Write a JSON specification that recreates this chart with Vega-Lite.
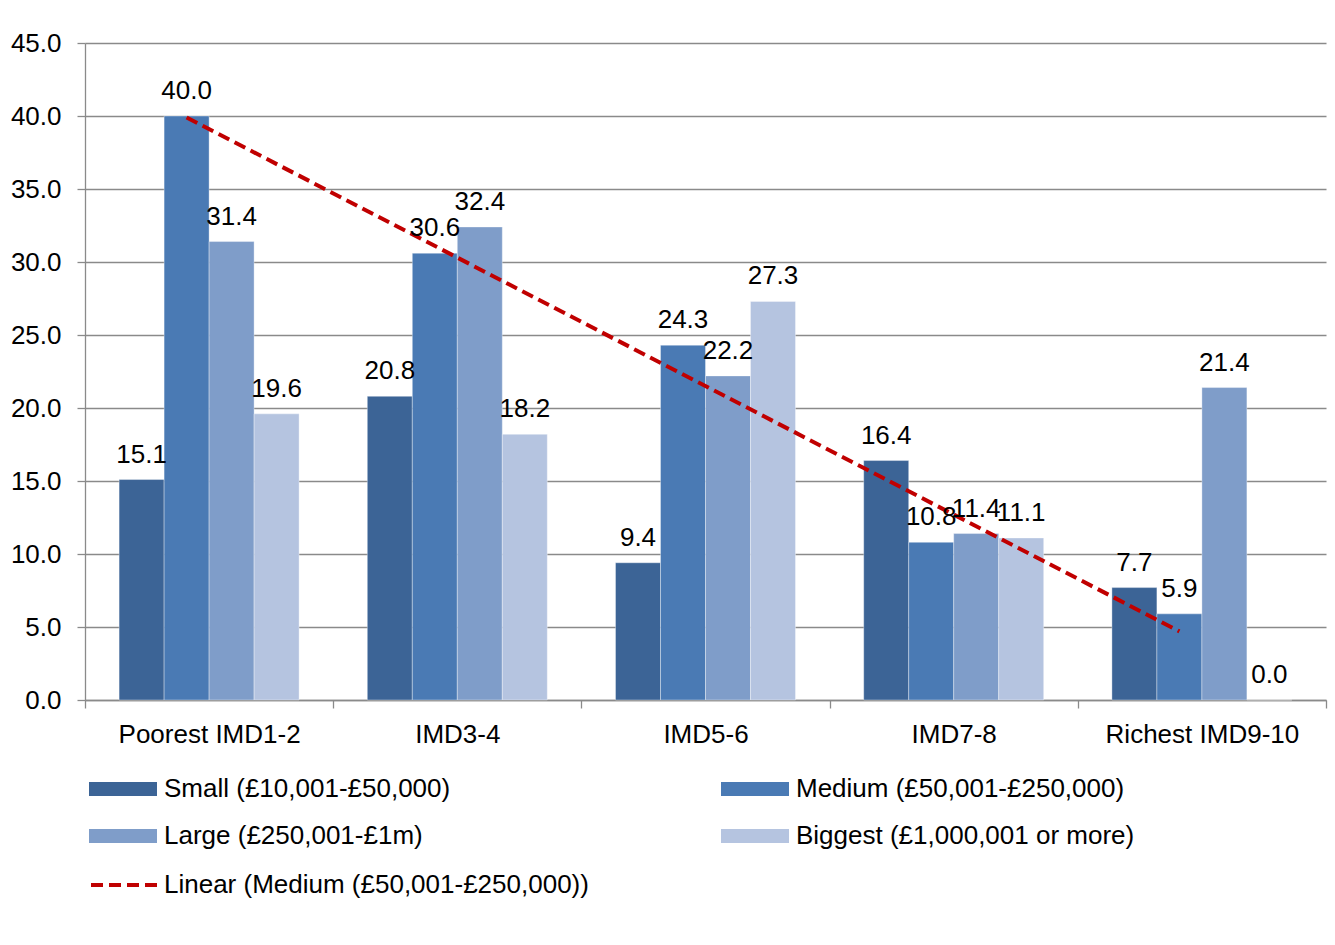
{
  "$schema": "https://vega.github.io/schema/vega-lite/v6.json",
  "autosize": "none",
  "width": 1241,
  "height": 657,
  "padding": {"left": 85, "top": 43, "right": 9, "bottom": 245},
  "background": "white",
  "config": {
    "font": "Liberation Sans",
    "view": {"stroke": null},
    "axis": {"labelFont": "Liberation Sans", "labelFontSize": 26, "labelColor": "#000000", "domainColor": "#8a8a8a", "tickColor": "#8a8a8a", "domainWidth": 1.3, "tickWidth": 1.3, "tickSize": 8, "labelLimit": 500},
    "legend": {"labelFont": "Liberation Sans", "labelFontSize": 26, "labelColor": "#000000", "labelLimit": 1000, "padding": 0, "symbolSize": 1156, "labelOffset": 24, "title": null, "symbolOpacity": 1}
  },
  "datasets": {
    "bars": [
      {"group": "Poorest IMD1-2", "series": "Small (£10,001-£50,000)", "value": 15.1},
      {"group": "Poorest IMD1-2", "series": "Medium (£50,001-£250,000)", "value": 40.0},
      {"group": "Poorest IMD1-2", "series": "Large (£250,001-£1m)", "value": 31.4},
      {"group": "Poorest IMD1-2", "series": "Biggest (£1,000,001 or more)", "value": 19.6},
      {"group": "IMD3-4", "series": "Small (£10,001-£50,000)", "value": 20.8},
      {"group": "IMD3-4", "series": "Medium (£50,001-£250,000)", "value": 30.6},
      {"group": "IMD3-4", "series": "Large (£250,001-£1m)", "value": 32.4},
      {"group": "IMD3-4", "series": "Biggest (£1,000,001 or more)", "value": 18.2},
      {"group": "IMD5-6", "series": "Small (£10,001-£50,000)", "value": 9.4},
      {"group": "IMD5-6", "series": "Medium (£50,001-£250,000)", "value": 24.3},
      {"group": "IMD5-6", "series": "Large (£250,001-£1m)", "value": 22.2},
      {"group": "IMD5-6", "series": "Biggest (£1,000,001 or more)", "value": 27.3},
      {"group": "IMD7-8", "series": "Small (£10,001-£50,000)", "value": 16.4},
      {"group": "IMD7-8", "series": "Medium (£50,001-£250,000)", "value": 10.8},
      {"group": "IMD7-8", "series": "Large (£250,001-£1m)", "value": 11.4},
      {"group": "IMD7-8", "series": "Biggest (£1,000,001 or more)", "value": 11.1},
      {"group": "Richest IMD9-10", "series": "Small (£10,001-£50,000)", "value": 7.7},
      {"group": "Richest IMD9-10", "series": "Medium (£50,001-£250,000)", "value": 5.9},
      {"group": "Richest IMD9-10", "series": "Large (£250,001-£1m)", "value": 21.4},
      {"group": "Richest IMD9-10", "series": "Biggest (£1,000,001 or more)", "value": 0.0}
    ],
    "trend": [
      {"group": "Poorest IMD1-2", "pos": "Medium (£50,001-£250,000)", "trend": "Linear (Medium (£50,001-£250,000))", "value": 39.9},
      {"group": "Richest IMD9-10", "pos": "Medium (£50,001-£250,000)", "trend": "Linear (Medium (£50,001-£250,000))", "value": 4.7}
    ]
  },
  "layer": [
    {
      "data": {"name": "bars"},
      "mark": {"type": "bar", "stroke": "#ffffff", "strokeWidth": 0.6, "strokeOpacity": 0.6},
      "encoding": {
        "x": {"field": "group", "type": "nominal", "sort": null,
          "scale": {"paddingInner": 0, "paddingOuter": 0},
          "axis": {"title": null, "labelAngle": 0, "tickBand": "extent", "labelPadding": 13, "labelBaseline": "top", "grid": false}},
        "xOffset": {"field": "series", "type": "nominal",
          "scale": {"domain": ["Small (£10,001-£50,000)", "Medium (£50,001-£250,000)", "Large (£250,001-£1m)", "Biggest (£1,000,001 or more)"], "paddingInner": 0, "paddingOuter": 0.758}},
        "y": {"field": "value", "type": "quantitative",
          "scale": {"domain": [0, 45], "nice": false},
          "axis": {"title": null, "values": [0, 5, 10, 15, 20, 25, 30, 35, 40, 45], "format": ".1f", "labelPadding": 16, "grid": true, "gridColor": "#8a8a8a", "gridWidth": 1.3}},
        "color": {"field": "series", "type": "nominal",
          "scale": {"domain": ["Small (£10,001-£50,000)", "Medium (£50,001-£250,000)", "Large (£250,001-£1m)", "Biggest (£1,000,001 or more)"],
                    "range": ["#3c6496", "#4a7ab4", "#7f9dc9", "#b5c4e0"]},
          "legend": {
            "title": null, "orient": "none", "legendX": 21, "legendY": 729, "direction": "horizontal",
            "columns": 2, "columnPadding": 270, "rowPadding": 17,
            "symbolType": "M-2,-0.41H2V0.41H-2Z", "symbolStrokeWidth": 0
          }}
      }
    },
    {
      "data": {"name": "trend"},
      "mark": {"type": "line", "strokeWidth": 4, "color": "#c00000"},
      "encoding": {
        "x": {"field": "group", "type": "nominal", "sort": null},
        "xOffset": {"field": "pos", "type": "nominal"},
        "y": {"field": "value", "type": "quantitative"},
        "strokeDash": {"field": "trend", "type": "nominal",
          "scale": {"domain": ["Linear (Medium (£50,001-£250,000))"], "range": [[12, 6]]},
          "legend": {
            "title": null, "orient": "none", "legendX": 21, "legendY": 823, "labelOffset": 20,
            "symbolType": "M-2,0H2", "symbolStrokeColor": "#c00000", "symbolStrokeWidth": 4, "symbolFillColor": "transparent"
          }}
      }
    },
    {
      "data": {"name": "bars"},
      "mark": {"type": "text", "baseline": "alphabetic", "dy": -17, "fontSize": 26, "font": "Liberation Sans", "color": "#000000"},
      "encoding": {
        "x": {"field": "group", "type": "nominal", "sort": null},
        "xOffset": {"field": "series", "type": "nominal"},
        "y": {"field": "value", "type": "quantitative"},
        "text": {"field": "value", "type": "quantitative", "format": ".1f"}
      }
    }
  ]
}
